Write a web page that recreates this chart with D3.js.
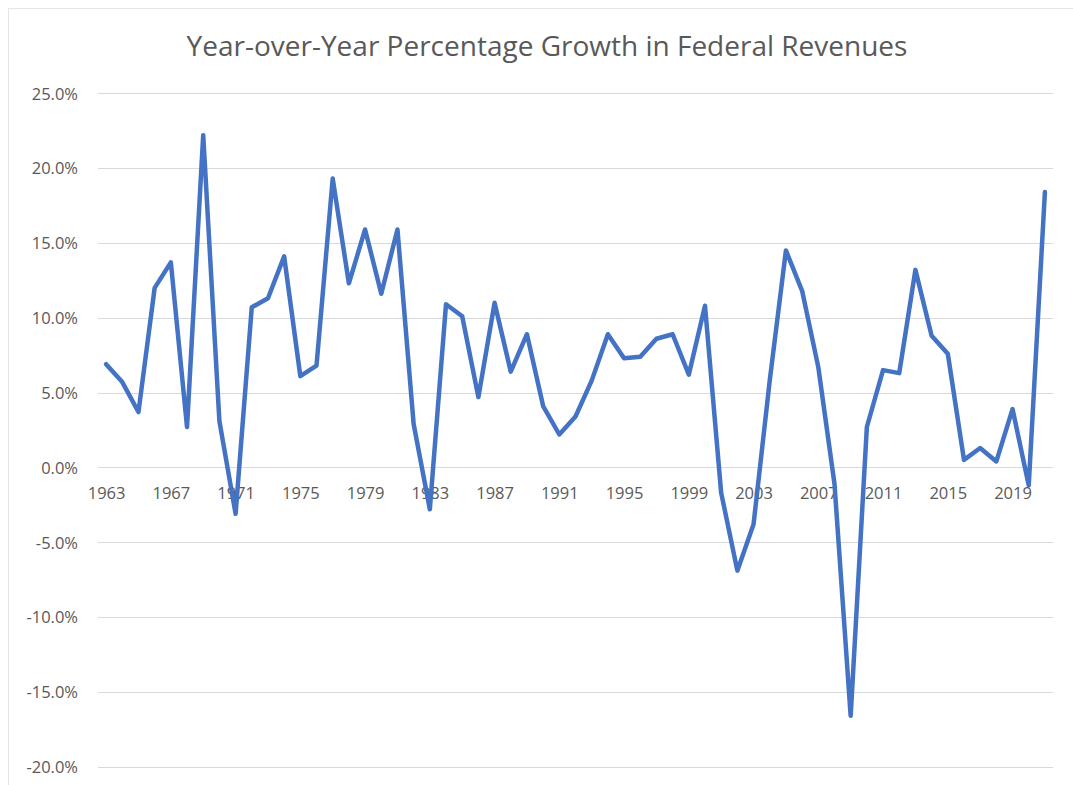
<!DOCTYPE html>
<html lang="en">
<head>
<meta charset="utf-8">
<script src="https://d3js.org/d3.v7.min.js"></script>
<style>
  body { margin: 0; padding: 0; background: #fff; }
  svg { display: block; }
  .tick-label { font-family: "Open Sans", "Liberation Sans", sans-serif; font-size: 16.5px; fill: #595959; }
  #title { font-family: "Open Sans", "Liberation Sans", sans-serif; font-size: 28px; fill: #595959; }
</style>
</head>
<body>
<svg id="chart" width="1073" height="785"></svg>
<script>
// years on the category axis
const years = d3.range(1963, 2022);
// year-over-year % growth in federal revenues
const growth = [
  6.9, 5.7, 3.7, 12.0, 13.7, 2.7, 22.2, 3.1, -3.1, 10.7,
  11.3, 14.1, 6.1, 6.8, 19.3, 12.3, 15.9, 11.6, 15.9, 2.9,
  -2.8, 10.9, 10.1, 4.7, 11.0, 6.4, 8.9, 4.1, 2.2, 3.4,
  5.8, 8.9, 7.3, 7.4, 8.6, 8.9, 6.2, 10.8, -1.7, -6.9,
  -3.8, 5.8, 14.5, 11.8, 6.7, -1.1, -16.6, 2.7, 6.5, 6.3,
  13.2, 8.8, 7.6, 0.5, 1.3, 0.4, 3.9, -1.2, 18.4
];
const yTicks = [-20, -15, -10, -5, 0, 5, 10, 15, 20, 25];
const xLabelYears = d3.range(1963, 2022, 4);

const plotLeft = 98, plotRight = 1053, plotTop = 93.3, plotBottom = 766.7;

const svg = d3.select('#chart');

// chart area border
svg.append('rect')
   .attr('x', 8.5).attr('y', 8.5)
   .attr('width', 1080).attr('height', 800)
   .attr('fill', 'none')
   .attr('stroke', '#e6e6e6');

const x = d3.scalePoint()
            .domain(years)
            .range([plotLeft, plotRight])
            .padding(0.5);
const y = d3.scaleLinear()
            .domain([-20, 25])
            .range([plotBottom, plotTop]);

// gridlines
svg.append('g')
   .selectAll('line')
   .data(yTicks)
   .enter()
   .append('line')
   .attr('x1', plotLeft).attr('x2', plotRight)
   .attr('y1', d => Math.round(y(d)) + 0.5)
   .attr('y2', d => Math.round(y(d)) + 0.5)
   .attr('stroke', '#d9d9d9')
   .attr('stroke-width', 1);

// y axis labels
const yAxis = d3.axisLeft(y)
                .tickValues(yTicks)
                .tickSize(0)
                .tickPadding(0)
                .tickFormat(d => d.toFixed(1) + '%');
const gy = svg.append('g')
              .attr('transform', 'translate(78,0)')
              .call(yAxis);
gy.select('.domain').remove();
gy.selectAll('text').attr('class', 'tick-label').attr('dy', '0.35em');

// x axis labels, placed below the zero line
const xAxis = d3.axisBottom(x)
                .tickValues(xLabelYears)
                .tickSize(0)
                .tickPadding(0);
const gx = svg.append('g')
              .attr('transform', 'translate(0,' + (y(0) + 20) + ')')
              .call(xAxis);
gx.select('.domain').remove();
gx.selectAll('text').attr('class', 'tick-label').attr('dy', '0.71em');

// the series line
const line = d3.line()
               .x((d, i) => x(years[i]))
               .y(d => y(d));
svg.append('path')
   .datum(growth)
   .attr('d', line)
   .attr('fill', 'none')
   .attr('stroke', '#4472c4')
   .attr('stroke-width', 4.5)
   .attr('stroke-linejoin', 'round')
   .attr('stroke-linecap', 'round');

svg.append('text')
   .attr('id', 'title')
   .attr('x', 547)
   .attr('y', 56)
   .attr('text-anchor', 'middle')
   .text('Year-over-Year Percentage Growth in Federal Revenues');
</script>
</body>
</html>
